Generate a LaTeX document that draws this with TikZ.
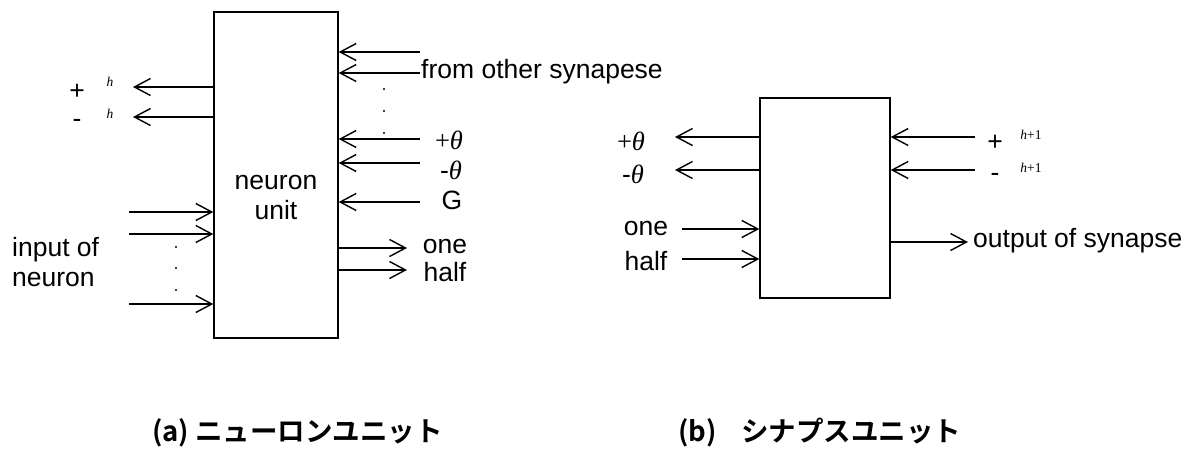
\documentclass[tikz,border=0pt]{standalone}
\usepackage{fontspec}
\setmainfont{Liberation Sans}
\newfontfamily\tms{Liberation Serif}
\newfontfamily\jp{Noto Sans CJK JP}[BoldFont={Noto Sans CJK JP Bold}]
\usetikzlibrary{arrows.meta}
\newcommand{\thplus}{{\tms +\textit{θ}}}
\newcommand{\thminus}{-{\tms\textit{θ}}}
\newcommand{\supidx}[1]{{\tms\fontsize{13.5}{15}\selectfont #1}}
\begin{document}
\begin{tikzpicture}[x=1pt,y=-1pt,
  unitbox/.style={draw,line width=1.4pt,inner sep=0pt},
  arr/.style={line width=1.4pt,-{Straight Barb[length=16pt,width=17pt]}},
  lbl/.style={inner sep=0pt,font=\fontsize{26.5}{30}\selectfont},
  captext/.style={inner sep=0pt,font=\jp\bfseries\fontsize{27.5}{31}\selectfont},
  dotmark/.style={circle,fill,inner sep=0pt,minimum size=2.2pt}]
\useasboundingbox (0,0) rectangle (1203,451);

% ---------- (a) neuron unit ----------
\node[unitbox,minimum width=124pt,minimum height=326pt] (a) at (276,175) {};
\node[lbl,align=center] (atext) at (276,197) {neuron\\[0pt]unit};

% outputs to the left
\coordinate (po) at (133,87);
\coordinate (mo) at (133,117);
\draw[arr] (a.west |- po) -- (po);
\draw[arr] (a.west |- mo) -- (mo);
\node[lbl] (plus) at (77,92) {+};
\node[inner sep=0pt] (hp) at (110,82) {\supidx{\textit{h}}};
\node[lbl] (minus) at (77,123) {-};
\node[inner sep=0pt] (hm) at (110,114) {\supidx{\textit{h}}};

% inputs from the left
\coordinate (i1) at (129,212);
\coordinate (i2) at (129,234);
\coordinate (i3) at (129,304);
\draw[arr] (i1) -- (a.west |- i1);
\draw[arr] (i2) -- (a.west |- i2);
\draw[arr] (i3) -- (a.west |- i3);
\node[dotmark] (d1) at (176,247) {};
\node[dotmark] (d2) at (176,268) {};
\node[dotmark] (d3) at (176,290) {};
\node[lbl,anchor=west,align=left] (inlbl) at (12,262) {input of\\[0pt]neuron};

% inputs from the right
\coordinate (s1) at (420,52);
\coordinate (s2) at (420,73);
\coordinate (tp) at (420,139);
\coordinate (tm) at (420,163);
\coordinate (g) at (420,202);
\foreach \c in {s1,s2,tp,tm,g} \draw[arr] (\c) -- (a.east |- \c);
\node[lbl,anchor=west] (synlbl) at (421,72) {from other synapese};
\node[dotmark] (e1) at (384,89) {};
\node[dotmark] (e2) at (384,111) {};
\node[dotmark] (e3) at (384,133) {};
\node[lbl] (tpl) at (449,140) {\thplus};
\node[lbl] (tml) at (451,170) {\thminus};
\node[lbl] (gl) at (452,200) {G};

% outputs to the right
\coordinate (o1) at (407,248);
\coordinate (o2) at (407,270);
\draw[arr] (a.east |- o1) -- (o1);
\draw[arr] (a.east |- o2) -- (o2);
\node[lbl] (onel) at (445,246) {one};
\node[lbl] (halfl) at (445,272) {half};

% ---------- (b) synapse unit ----------
\node[unitbox,minimum width=130pt,minimum height=200pt] (b) at (825,198) {};

\coordinate (bp) at (675,137);
\coordinate (bm) at (675,170);
\draw[arr] (b.west |- bp) -- (bp);
\draw[arr] (b.west |- bm) -- (bm);
\node[lbl] (btp) at (631,141) {\thplus};
\node[lbl] (btm) at (633,174) {\thminus};

\coordinate (rp) at (975,137);
\coordinate (rm) at (975,170);
\draw[arr] (rp) -- (b.east |- rp);
\draw[arr] (rm) -- (b.east |- rm);
\node[lbl] (bplus) at (995,143) {+};
\node[inner sep=0pt] (hp1) at (1031,135) {\supidx{\textit{h}+1}};
\node[lbl] (bminus) at (995,177) {-};
\node[inner sep=0pt] (hm1) at (1031,168) {\supidx{\textit{h}+1}};

\coordinate (bo) at (682,229);
\coordinate (bh) at (682,259);
\draw[arr] (bo) -- (b.west |- bo);
\draw[arr] (bh) -- (b.west |- bh);
\node[lbl] (bone) at (646,228) {one};
\node[lbl] (bhalf) at (646,261) {half};

\coordinate (out) at (968,242);
\draw[arr] (b.east |- out) -- (out);
\node[lbl,anchor=west] (outl) at (973,241) {output of synapse};

% ---------- captions ----------
\node[captext,anchor=west] (capa) at (152,433) {(a) ニューロンユニット};
\node[captext,anchor=west] (capb) at (678,433) {(b)\hspace{0.9em}シナプスユニット};
\end{tikzpicture}
\end{document}
